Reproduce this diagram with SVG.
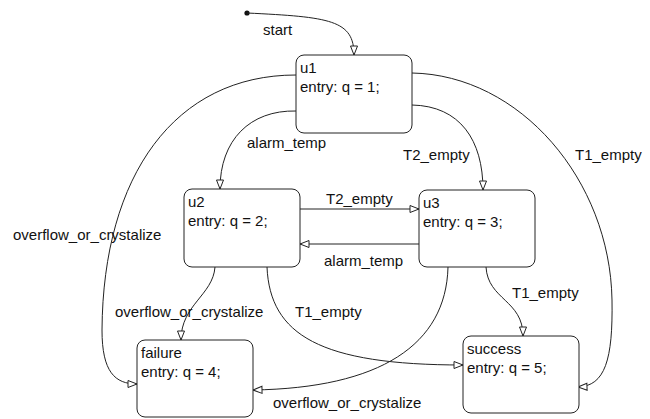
<svg xmlns="http://www.w3.org/2000/svg" width="650" height="419" viewBox="0 0 650 419">
  <style>
    .state rect { fill: #ffffff; stroke: #222; stroke-width: 1; }
    .state text, .label { font-family: "Liberation Sans", Arial, sans-serif; font-size: 15px; fill: #111; }
    .edge { fill: none; stroke: #222; stroke-width: 1; marker-end: url(#open); }
  </style>
  <defs>
    <marker id="open" markerUnits="userSpaceOnUse" markerWidth="12" markerHeight="10" refX="10" refY="4" orient="auto">
      <path d="M1,0.5 L10,4 L1,7.5 Z" fill="#ffffff" stroke="#222" stroke-width="1"/>
    </marker>
  </defs>

  <!-- transitions -->
  <g id="connectors">
    <circle cx="247" cy="13" r="2.6" fill="#111"/>
    <path class="edge" d="M247,13 C330,17 354,20 354,55"/>
    <path class="edge" d="M296,111 C250,110 220,140 220,189"/>
    <path class="edge" d="M412,105 C460,106 483,140 483,190"/>
    <path class="edge" d="M412,73 C520,75 610,180 612,300 C613,360 605,386 578,387"/>
    <path class="edge" d="M296,75 C175,75 103,175 102,330 C102,372 115,384 137,384"/>
    <path class="edge" d="M300,209 L419,209"/>
    <path class="edge" d="M419,244 L300,244"/>
    <path class="edge" d="M215,267 C213,295 181,305 181,340"/>
    <path class="edge" d="M267,267 C270,335 320,365 463,365"/>
    <path class="edge" d="M448,267 C446,345 380,388 253,390"/>
    <path class="edge" d="M486,267 C488,300 523,300 523,336"/>

    <text class="label" x="263" y="35">start</text>
    <text class="label" x="247" y="148">alarm_temp</text>
    <text class="label" x="403" y="160">T2_empty</text>
    <text class="label" x="575" y="160">T1_empty</text>
    <text class="label" x="13" y="240">overflow_or_crystalize</text>
    <text class="label" x="326" y="204">T2_empty</text>
    <text class="label" x="324" y="266">alarm_temp</text>
    <text class="label" x="115" y="317">overflow_or_crystalize</text>
    <text class="label" x="295" y="317">T1_empty</text>
    <text class="label" x="512" y="298">T1_empty</text>
    <text class="label" x="273" y="408">overflow_or_crystalize</text>
  </g>

  <!-- states -->
  <g id="u1" class="state">
    <rect x="296" y="55" width="116" height="78" rx="8"/>
    <text x="300" y="73">u1</text>
    <text x="300" y="92">entry: q = 1;</text>
  </g>
  <g id="u2" class="state">
    <rect x="184" y="189" width="116" height="78" rx="8"/>
    <text x="188" y="207">u2</text>
    <text x="188" y="226">entry: q = 2;</text>
  </g>
  <g id="u3" class="state">
    <rect x="419" y="190" width="116" height="77" rx="8"/>
    <text x="423" y="208">u3</text>
    <text x="423" y="227">entry: q = 3;</text>
  </g>
  <g id="failure" class="state">
    <rect x="137" y="340" width="116" height="77" rx="8"/>
    <text x="141" y="358">failure</text>
    <text x="141" y="377">entry: q = 4;</text>
  </g>
  <g id="success" class="state">
    <rect x="463" y="336" width="116" height="77" rx="8"/>
    <text x="467" y="354">success</text>
    <text x="467" y="373">entry: q = 5;</text>
  </g>
</svg>
